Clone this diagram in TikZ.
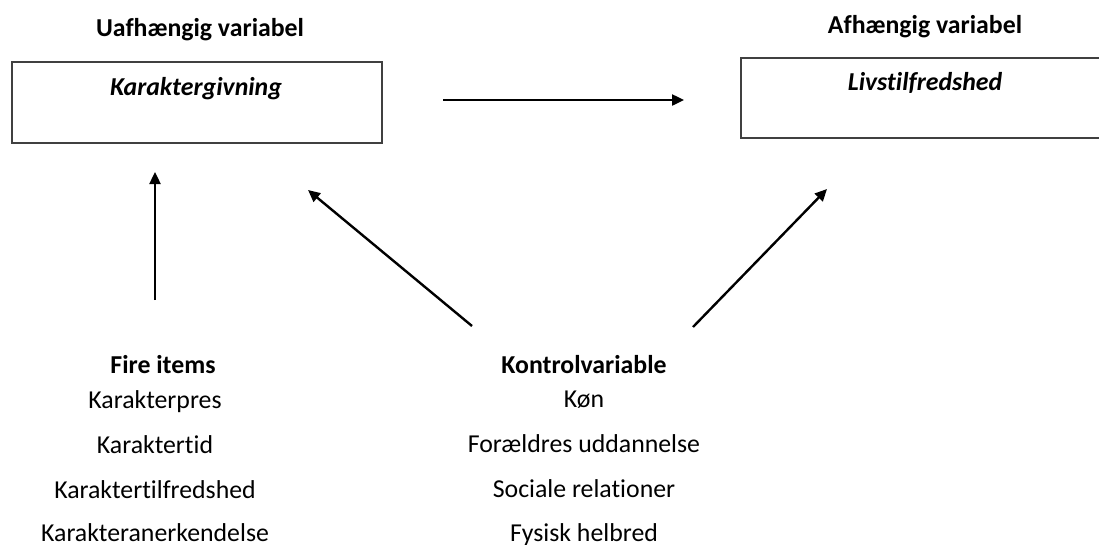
\documentclass[tikz,border=0pt]{standalone}
\usepackage{fontspec}
\setmainfont[Ligatures=NoCommon]{Carlito}
\usetikzlibrary{arrows.meta}
\tikzset{
  txt/.style={inner sep=0pt, anchor=base, font=\fontsize{25.8}{30}\selectfont},
  head/.style={txt, font=\fontsize{25.8}{30}\selectfont\bfseries},
  boxtitle/.style={txt, font=\fontsize{25.8}{30}\selectfont\bfseries\itshape},
  varbox/.style={draw=black!75, line width=1.4pt},
  arr/.style={line width=2.4pt, -{Triangle[length=12pt,width=11pt]}},
}
\begin{document}
\begin{tikzpicture}[x=1pt,y=-1pt]
\useasboundingbox (0,0) rectangle (1099,544);
\clip (0,0) rectangle (1099,544);
% headings
\node[head] (uh) at (200,36) {Uafhængig variabel};
\node[head] (ah) at (925,33) {Afhængig variabel};
% boxes
\draw[varbox] (12,62) rectangle (382,143);
\draw[varbox] (741,58) rectangle (1104,138);
\node[boxtitle] (kg) at (196,95) {Karaktergivning};
\node[boxtitle] (lt) at (925,90) {Livstilfredshed};
% left list
\node[head] (fi) at (163,373) {Fire items};
\node[txt] (f1) at (155,408) {Karakterpres};
\node[txt] (f2) at (155,453) {Karaktertid};
\node[txt] (f3) at (155,498) {Karaktertilfredshed};
\node[txt] (f4) at (155,541) {Karakteranerkendelse};
% right list
\node[head] (kv) at (584,373) {Kontrolvariable};
\node[txt] (k1) at (584,407) {Køn};
\node[txt] (k2) at (584,452) {Forældres uddannelse};
\node[txt] (k3) at (584,497) {Sociale relationer};
\node[txt] (k4) at (584,541) {Fysisk helbred};
% arrow end points
\coordinate (h1) at (443,100);
\coordinate (h2) at (684,100);
\coordinate (u1) at (155,300);
\coordinate (u2) at (155,172);
\coordinate (d1) at (472,326);
\coordinate (d2) at (308,190);
\coordinate (e1) at (693,327);
\coordinate (e2) at (827,189);
\draw[arr] (h1) -- (h2);
\draw[arr] (u1) -- (u2);
\draw[arr] (d1) -- (d2);
\draw[arr] (e1) -- (e2);
\end{tikzpicture}
\end{document}
